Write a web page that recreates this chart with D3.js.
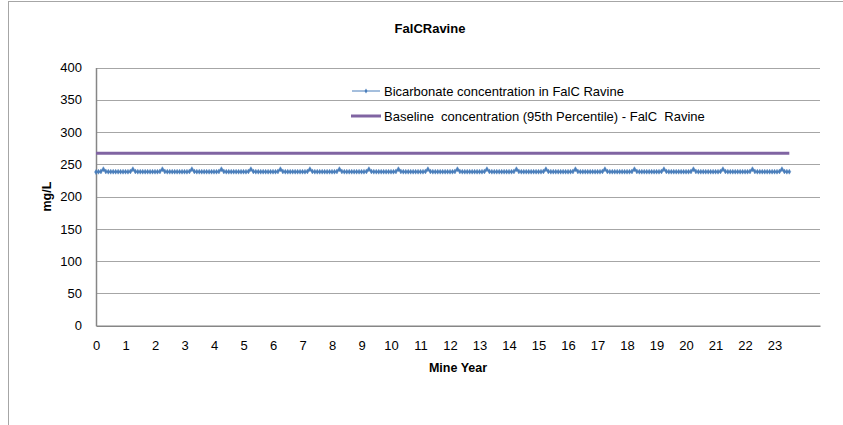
<!DOCTYPE html>
<html>
<head>
<meta charset="utf-8">
<script src="https://cdn.jsdelivr.net/npm/d3@7"></script>
<style>
html,body{margin:0;padding:0;background:#fff;}
svg{display:block;}
text{font-family:"Liberation Sans",Arial,sans-serif;}
</style>
</head>
<body>
<svg id="chart" width="843" height="425"></svg>
<script>
// ---- data ----
const title = "FalCRavine";
const xLabel = "Mine Year";
const yLabel = "mg/L";
const seriesNames = ["Bicarbonate concentration in FalC Ravine", "Baseline  concentration (95th Percentile) - FalC  Ravine"];
const xTicks = [0,1,2,3,4,5,6,7,8,9,10,11,12,13,14,15,16,17,18,19,20,21,22,23];
const yTicks = [0,50,100,150,200,250,300,350,400];
// monthly mine-year positions (years)
const months = d3.range(0, 283).map(i => i / 12);
// bicarbonate concentration, one row per mine year (monthly)
const bicarbonate = [
  238,238.5,239,242.5,239,238.5,238.5,238.5,238.5,238.5,238.5,238.5,
  238.5,238.5,239,242.5,239,238.5,238.5,238.5,238.5,238.5,238.5,238.5,
  238.5,238.5,239,242.5,239,238.5,238.5,238.5,238.5,238.5,238.5,238.5,
  238.5,238.5,239,242.5,239,238.5,238.5,238.5,238.5,238.5,238.5,238.5,
  238.5,238.5,239,242.5,239,238.5,238.5,238.5,238.5,238.5,238.5,238.5,
  238.5,238.5,239,242.5,239,238.5,238.5,238.5,238.5,238.5,238.5,238.5,
  238.5,238.5,239,242.5,239,238.5,238.5,238.5,238.5,238.5,238.5,238.5,
  238.5,238.5,239,242.5,239,238.5,238.5,238.5,238.5,238.5,238.5,238.5,
  238.5,238.5,239,242.5,239,238.5,238.5,238.5,238.5,238.5,238.5,238.5,
  238.5,238.5,239,242.5,239,238.5,238.5,238.5,238.5,238.5,238.5,238.5,
  238.5,238.5,239,242.5,239,238.5,238.5,238.5,238.5,238.5,238.5,238.5,
  238.5,238.5,239,242.5,239,238.5,238.5,238.5,238.5,238.5,238.5,238.5,
  238.5,238.5,239,242.5,239,238.5,238.5,238.5,238.5,238.5,238.5,238.5,
  238.5,238.5,239,242.5,239,238.5,238.5,238.5,238.5,238.5,238.5,238.5,
  238.5,238.5,239,242.5,239,238.5,238.5,238.5,238.5,238.5,238.5,238.5,
  238.5,238.5,239,242.5,239,238.5,238.5,238.5,238.5,238.5,238.5,238.5,
  238.5,238.5,239,242.5,239,238.5,238.5,238.5,238.5,238.5,238.5,238.5,
  238.5,238.5,239,242.5,239,238.5,238.5,238.5,238.5,238.5,238.5,238.5,
  238.5,238.5,239,242.5,239,238.5,238.5,238.5,238.5,238.5,238.5,238.5,
  238.5,238.5,239,242.5,239,238.5,238.5,238.5,238.5,238.5,238.5,238.5,
  238.5,238.5,239,242.5,239,238.5,238.5,238.5,238.5,238.5,238.5,238.5,
  238.5,238.5,239,242.5,239,238.5,238.5,238.5,238.5,238.5,238.5,238.5,
  238.5,238.5,239,242.5,239,238.5,238.5,238.5,238.5,238.5,238.5,238.5,
  238.5,238.5,239,242.5,239,238.5,238.5
];
const baselineX = [0, 23.5];
const baselineY = [267, 267];

// ---- layout ----
const svg = d3.select("#chart");
const pLeft = 96, pRight = 820, pTop = 67.5, pBottom = 325.7;
const x = d3.scaleLinear().domain([0, 24.54]).range([pLeft, pRight]);
const y = d3.scaleLinear().domain([0, 400]).range([pBottom, pTop]);
const blue = "#4A7EBB", purple = "#8064A2";
const fam = "'Liberation Sans',Arial,sans-serif";

// chart border
svg.append("rect").attr("x", 8.5).attr("y", 1.5).attr("width", 1000).attr("height", 600)
  .attr("fill", "none").attr("stroke", "#a6a6a6").attr("stroke-width", 1);

// title
svg.append("text").attr("x", 430).attr("y", 33).attr("text-anchor", "middle")
  .style("font-weight", "bold").style("font-size", "13px").text(title);

// gridlines
svg.append("g").selectAll("line").data(yTicks.filter(d => d > 0)).join("line")
  .attr("x1", pLeft).attr("x2", pRight)
  .attr("y1", d => Math.round(y(d)) + 0.5).attr("y2", d => Math.round(y(d)) + 0.5)
  .attr("stroke", "#a6a6a6").attr("stroke-width", 1);

// y axis
const yAxis = svg.append("g").attr("transform", `translate(${pLeft},0)`)
  .call(d3.axisLeft(y).tickValues(yTicks).tickSize(0).tickPadding(14));
yAxis.select(".domain").attr("stroke", "#868686").attr("stroke-width", 1.5);
yAxis.selectAll("text").style("font-size", "13px").style("font-family", fam).attr("fill", "#000");

// x axis
const xAxis = svg.append("g").attr("transform", `translate(0,${pBottom})`)
  .call(d3.axisBottom(x).tickValues(xTicks).tickFormat(d3.format("d")).tickSize(0).tickPadding(15));
xAxis.select(".domain").attr("stroke", "#868686").attr("stroke-width", 1.5);
xAxis.selectAll("text").style("font-size", "13px").style("font-family", fam).attr("fill", "#000");

// axis titles
svg.append("text").attr("x", (pLeft + pRight) / 2).attr("y", 372).attr("text-anchor", "middle")
  .style("font-weight", "bold").style("font-size", "12.5px").text(xLabel);
svg.append("text").attr("transform", `translate(51,${(pTop + pBottom) / 2}) rotate(-90)`)
  .attr("text-anchor", "middle").style("font-weight", "bold").style("font-size", "12.5px").text(yLabel);

// baseline series
const bl = baselineX.map((d, i) => [d, baselineY[i]]);
svg.append("path").datum(bl)
  .attr("d", d3.line().x(d => x(d[0])).y(d => y(d[1])))
  .attr("fill", "none").attr("stroke", purple).attr("stroke-width", 3);

// bicarbonate series
const pts = months.map((m, i) => [m, bicarbonate[i]]);
svg.append("path").datum(pts)
  .attr("d", d3.line().x(d => x(d[0])).y(d => y(d[1])))
  .attr("fill", "none").attr("stroke", blue).attr("stroke-width", 1.5);
const diamond = d3.symbol().type(d3.symbolDiamond).size(7);
svg.append("g").selectAll("path").data(pts).join("path")
  .attr("transform", d => `translate(${x(d[0])},${y(d[1])})`)
  .attr("d", diamond).attr("fill", blue).attr("stroke", blue).attr("stroke-width", 0.5);

// legend
const lg = svg.append("g");
lg.append("line").attr("x1", 352).attr("x2", 380).attr("y1", 91).attr("y2", 91)
  .attr("stroke", blue).attr("stroke-width", 1);
lg.append("path").attr("transform", "translate(366,91)").attr("d", diamond).attr("fill", blue);
lg.append("text").attr("x", 384).attr("y", 95.5).style("font-size", "13px").style("white-space", "pre").text(seriesNames[0]);
lg.append("line").attr("x1", 351).attr("x2", 381).attr("y1", 116).attr("y2", 116)
  .attr("stroke", purple).attr("stroke-width", 3);
lg.append("text").attr("x", 384).attr("y", 120.5).style("font-size", "13px").style("white-space", "pre").text(seriesNames[1]);
</script>
</body>
</html>
